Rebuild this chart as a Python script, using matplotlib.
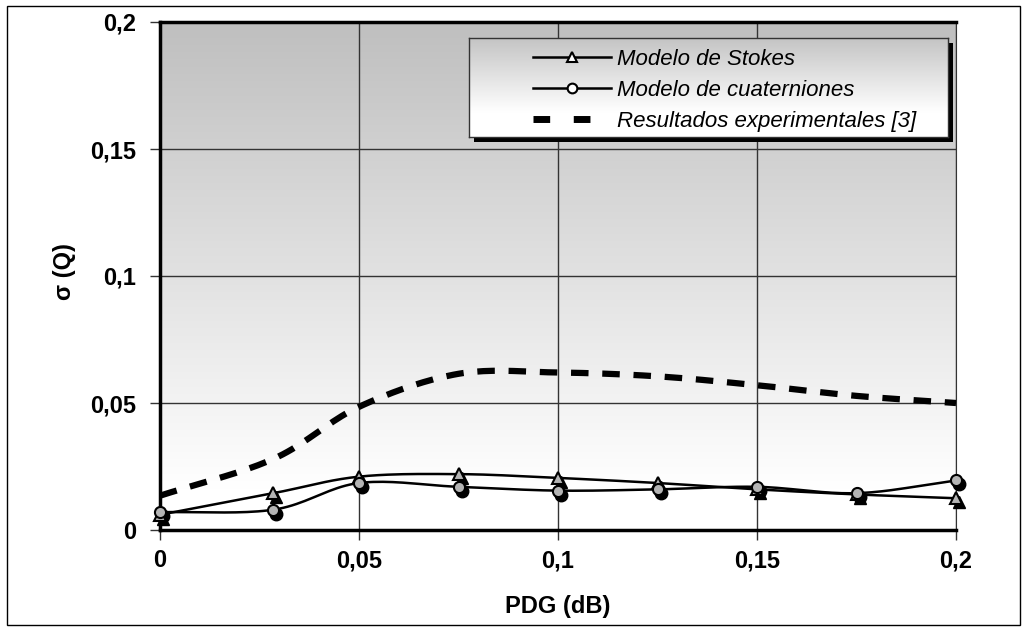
import numpy as np
import matplotlib.pyplot as plt
import matplotlib.patches as mpatches
import matplotlib.transforms as mtransforms
from matplotlib.colors import LinearSegmentedColormap
from matplotlib.lines import Line2D

plt.rcParams['font.family'] = ['Liberation Sans', 'DejaVu Sans']

# data
pdg = [0, 0.0285, 0.05, 0.075, 0.1, 0.125, 0.15, 0.175, 0.2]
stokes = [0.006, 0.0145, 0.021, 0.022, 0.0205, 0.0185, 0.0160, 0.0140, 0.0125]
cuat = [0.007, 0.0080, 0.0185, 0.0170, 0.0155, 0.0160, 0.0170, 0.0145, 0.0195]

pdg_exp = [0, 0.0285, 0.05, 0.075, 0.1, 0.125, 0.15, 0.175, 0.2]
exp_vals = [0.0135, 0.0280, 0.0485, 0.0615, 0.0620, 0.0605, 0.0570, 0.0528, 0.0500]

xticks = [0, 0.05, 0.1, 0.15, 0.2]
xlabels = ["0", "0,05", "0,1", "0,15", "0,2"]
yticks = [0, 0.05, 0.1, 0.15, 0.2]
ylabels = ["0", "0,05", "0,1", "0,15", "0,2"]


def smooth(x, y, n=20):
    # Catmull-Rom curve through the points (Excel "smoothed line" look)
    x = np.asarray(x, float)
    y = np.asarray(y, float)
    px = np.concatenate([[2 * x[0] - x[1]], x, [2 * x[-1] - x[-2]]])
    py = np.concatenate([[2 * y[0] - y[1]], y, [2 * y[-1] - y[-2]]])
    xs, ys = [], []
    t = np.linspace(0, 1, n, endpoint=False)
    for i in range(1, len(px) - 2):
        for p, out in ((px, xs), (py, ys)):
            p0, p1, p2, p3 = p[i - 1], p[i], p[i + 1], p[i + 2]
            out.extend(0.5 * (2 * p1 + (-p0 + p2) * t
                              + (2 * p0 - 5 * p1 + 4 * p2 - p3) * t ** 2
                              + (-p0 + 3 * p1 - 3 * p2 + p3) * t ** 3))
    xs.append(x[-1])
    ys.append(y[-1])
    return np.array(xs), np.array(ys)


fig = plt.figure(figsize=(10.28, 6.3), dpi=100)
ax = fig.add_axes([160 / 1028, 1 - 530 / 630, 796 / 1028, 508 / 630])

# outer frame of the chart
fig.patches.append(mpatches.Rectangle((7 / 1028, 5 / 630), 1013 / 1028, 619 / 630,
                                      transform=fig.transFigure, fill=False,
                                      edgecolor="black", linewidth=1))

# gradient plot area
grad = np.linspace(0, 1, 256).reshape(-1, 1)
ax.imshow(grad, cmap=LinearSegmentedColormap.from_list(
    "g", [(0, "#ffffff"), (0.08, "#ffffff"), (1, "#bfbfbf")]), aspect="auto",
    extent=[0, 0.2, 0, 0.2], origin="lower", zorder=0)

ax.set_xlim(0, 0.2)
ax.set_ylim(0, 0.2)
ax.set_xticks(xticks)
ax.set_xticklabels(xlabels)
ax.set_yticks(yticks)
ax.set_yticklabels(ylabels)
ax.grid(True, color="#333333", linewidth=1.0, zorder=1)
ax.tick_params(direction="out", length=7, width=1, color="#333333",
               labelsize=17)
ax.tick_params(axis="y", pad=10)
ax.tick_params(axis="x", pad=7)
for lab in ax.get_xticklabels() + ax.get_yticklabels():
    lab.set_fontweight("bold")
for side in ("left", "bottom", "top"):
    ax.spines[side].set_linewidth(2.5)
ax.spines["right"].set_color("#333333")
ax.set_xlabel("PDG (dB)", fontsize=17, fontweight="bold")
ax.set_ylabel("σ (Q)", fontsize=17, fontweight="bold")
ax.xaxis.set_label_coords(0.5, -0.128)
ax.yaxis.set_label_coords(-0.105, 0.508)

# experimental curve
sx, sy = smooth(pdg_exp, exp_vals)
ax.plot(sx, sy, color="black", linewidth=4.5, linestyle=(0, (2.8, 2.2)),
        zorder=3, clip_on=False)

# model curves with Excel-like marker shadows
shadow = mtransforms.offset_copy(ax.transData, fig=fig, x=3, y=-4, units="dots")
for xs_, ys_, mk in ((pdg, stokes, "^"), (pdg, cuat, "o")):
    cx, cy = smooth(xs_, ys_)
    ax.plot(cx, cy, color="black", linewidth=1.8, zorder=4, clip_on=False)
    ax.plot(xs_, ys_, linestyle="none", marker=mk, markersize=9,
            color="black", transform=shadow, zorder=5, clip_on=False)
    ax.plot(xs_, ys_, linestyle="none", marker=mk, markersize=8,
            markerfacecolor="#b4b4b4", markeredgecolor="black",
            markeredgewidth=1.5, zorder=6, clip_on=False)

# legend box with gradient and shadow
lx0, ly0, lw, lh = 469 / 1028, 1 - 137 / 630, 479 / 1028, 99 / 630
fig.patches.append(mpatches.Rectangle((lx0 + 5 / 1028, ly0 - 5 / 630), lw, lh,
                                      transform=fig.transFigure,
                                      facecolor="black", zorder=8))
lax = fig.add_axes([lx0, ly0, lw, lh], zorder=9)
lax.imshow(grad, cmap=LinearSegmentedColormap.from_list(
    "lg", [(0, "#ffffff"), (0.25, "#ffffff"), (1, "#c4c4c4")]), aspect="auto",
    extent=[0, 1, 0, 1], origin="lower")
lax.set_xticks([])
lax.set_yticks([])
for s in lax.spines.values():
    s.set_color("#333333")
    s.set_linewidth(1)

handles = [
    Line2D([], [], color="black", linewidth=1.8, marker="^", markersize=7,
           markerfacecolor="white", markeredgecolor="black", markeredgewidth=1.5),
    Line2D([], [], color="black", linewidth=1.8, marker="o", markersize=7,
           markerfacecolor="white", markeredgecolor="black", markeredgewidth=1.5),
    Line2D([], [], color="black", linewidth=5, linestyle=(0, (2.4, 3.4))),
]
names = ["Modelo de Stokes", "Modelo de cuaterniones", "Resultados experimentales [3]"]
leg = lax.legend(handles, names, loc="center left", bbox_to_anchor=(0.11, 0.47),
                 frameon=False, handlelength=3.5, handletextpad=0.3,
                 labelspacing=0.45, borderpad=0, prop={"size": 16, "style": "italic"})

fig.savefig("out.png", dpi=100)
